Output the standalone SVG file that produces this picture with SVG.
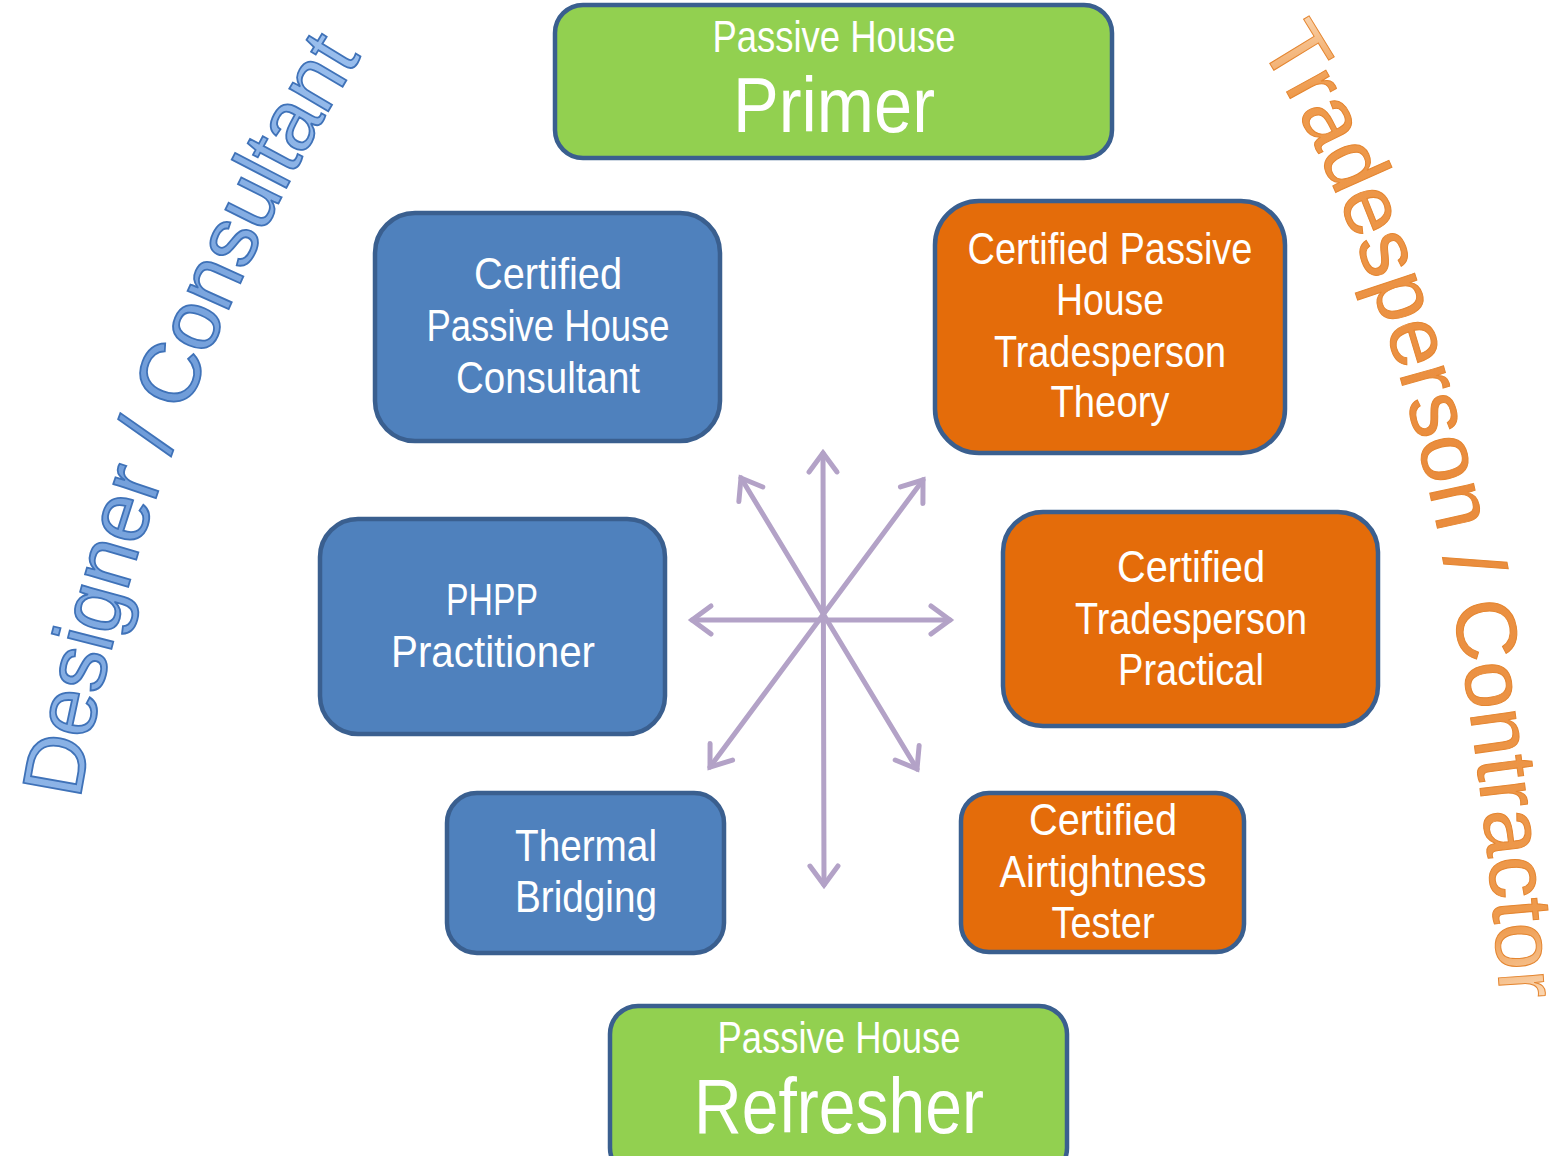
<svg xmlns="http://www.w3.org/2000/svg" width="1553" height="1156" viewBox="0 0 1553 1156">
<style>
.box{stroke:#3A5F8F;stroke-width:4.5}
.blue{fill:#4F81BD}
.orange{fill:#E46C0A}
.green{fill:#92D050}
.lbl{font-family:'Liberation Sans Narrow','Liberation Sans',Arial,sans-serif;fill:#FFFFFF;text-anchor:middle;font-size:44px}
.big{font-size:77px}
.arc{font-family:'Liberation Sans','DejaVu Sans',sans-serif;font-size:85px}
.arr{stroke:#B3A2C7;stroke-width:5;fill:none;stroke-linecap:round;marker-start:url(#ah);marker-end:url(#ah)}
</style>
<defs>
<marker id="ah" markerUnits="userSpaceOnUse" markerWidth="40" markerHeight="40" viewBox="0 0 40 40" refX="30" refY="20" orient="auto-start-reverse">
<path d="M 11 6 L 30 20 L 11 34" fill="none" stroke="#B3A2C7" stroke-width="5" stroke-linecap="round" stroke-linejoin="miter"/>
</marker>
<linearGradient id="gBlue" gradientUnits="userSpaceOnUse" x1="0" y1="800" x2="380" y2="40">
<stop offset="0" stop-color="#8FB6E8"/>
<stop offset="0.5" stop-color="#6E9BD8"/>
<stop offset="1" stop-color="#9CC0EE"/>
</linearGradient>
<linearGradient id="gOrange" gradientUnits="userSpaceOnUse" x1="1260" y1="20" x2="1540" y2="1000">
<stop offset="0" stop-color="#FBD9B6"/>
<stop offset="0.08" stop-color="#EE9A4C"/>
<stop offset="0.5" stop-color="#E98B3C"/>
<stop offset="0.92" stop-color="#EE9A4C"/>
<stop offset="1" stop-color="#FBD9B6"/>
</linearGradient>
<path id="pLeft" d="M 80 800 C 108 620, 195 320, 368 45"/>
<path id="pRight" d="M 1258 45 C 1380 230, 1470 560, 1500 1000"/>
</defs>
<rect width="1553" height="1156" fill="#FFFFFF"/>

<g id="label-designer">
<text class="arc" fill="url(#gBlue)" stroke="#3F72B8" stroke-width="1.8"><textPath href="#pLeft" textLength="800" lengthAdjust="spacing">Designer / Consultant</textPath></text>
</g>
<g id="label-tradesperson">
<text class="arc" fill="url(#gOrange)" stroke="#E4852F" stroke-width="1"><textPath href="#pRight" textLength="995" lengthAdjust="spacing">Tradesperson / Contractor</textPath></text>
</g>

<g id="connectors">
<line class="arr" x1="823" y1="453" x2="824" y2="885"/>
<line class="arr" x1="692" y1="620" x2="950" y2="620"/>
<line class="arr" x1="741" y1="478" x2="917" y2="769"/>
<line class="arr" x1="923" y1="480" x2="710" y2="767"/>
</g>

<g id="node-primer">
<rect class="box green" x="555" y="5" width="557" height="153" rx="28"/>
<text class="lbl" x="834" y="52" textLength="243" lengthAdjust="spacingAndGlyphs">Passive House</text>
<text class="lbl big" x="834" y="132" textLength="202" lengthAdjust="spacingAndGlyphs">Primer</text>
</g>

<g id="node-consultant">
<rect class="box blue" x="375" y="213" width="345" height="228" rx="40"/>
<text class="lbl" x="548" y="289" textLength="148" lengthAdjust="spacingAndGlyphs">Certified</text>
<text class="lbl" x="548" y="341" textLength="243" lengthAdjust="spacingAndGlyphs">Passive House</text>
<text class="lbl" x="548" y="393" textLength="184" lengthAdjust="spacingAndGlyphs">Consultant</text>
</g>

<g id="node-theory">
<rect class="box orange" x="935" y="201" width="350" height="252" rx="44"/>
<text class="lbl" x="1110" y="264" textLength="285" lengthAdjust="spacingAndGlyphs">Certified Passive</text>
<text class="lbl" x="1110" y="315" textLength="108" lengthAdjust="spacingAndGlyphs">House</text>
<text class="lbl" x="1110" y="367" textLength="232" lengthAdjust="spacingAndGlyphs">Tradesperson</text>
<text class="lbl" x="1110" y="417" textLength="119" lengthAdjust="spacingAndGlyphs">Theory</text>
</g>

<g id="node-phpp">
<rect class="box blue" x="320" y="519" width="345" height="215" rx="38"/>
<text class="lbl" x="492" y="615" textLength="92" lengthAdjust="spacingAndGlyphs">PHPP</text>
<text class="lbl" x="493" y="667" textLength="204" lengthAdjust="spacingAndGlyphs">Practitioner</text>
</g>

<g id="node-practical">
<rect class="box orange" x="1003" y="512" width="375" height="214" rx="40"/>
<text class="lbl" x="1191" y="582" textLength="148" lengthAdjust="spacingAndGlyphs">Certified</text>
<text class="lbl" x="1191" y="634" textLength="232" lengthAdjust="spacingAndGlyphs">Tradesperson</text>
<text class="lbl" x="1191" y="685" textLength="146" lengthAdjust="spacingAndGlyphs">Practical</text>
</g>

<g id="node-thermal">
<rect class="box blue" x="447" y="793" width="277" height="160" rx="30"/>
<text class="lbl" x="586" y="861" textLength="142" lengthAdjust="spacingAndGlyphs">Thermal</text>
<text class="lbl" x="586" y="912" textLength="142" lengthAdjust="spacingAndGlyphs">Bridging</text>
</g>

<g id="node-airtightness">
<rect class="box orange" x="961" y="793" width="283" height="159" rx="28"/>
<text class="lbl" x="1103" y="835" textLength="148" lengthAdjust="spacingAndGlyphs">Certified</text>
<text class="lbl" x="1103" y="887" textLength="207" lengthAdjust="spacingAndGlyphs">Airtightness</text>
<text class="lbl" x="1103" y="938" textLength="103" lengthAdjust="spacingAndGlyphs">Tester</text>
</g>

<g id="node-refresher">
<rect class="box green" x="610" y="1006" width="457" height="170" rx="28"/>
<text class="lbl" x="839" y="1053" textLength="243" lengthAdjust="spacingAndGlyphs">Passive House</text>
<text class="lbl big" x="839" y="1133" textLength="290" lengthAdjust="spacingAndGlyphs">Refresher</text>
</g>
</svg>
